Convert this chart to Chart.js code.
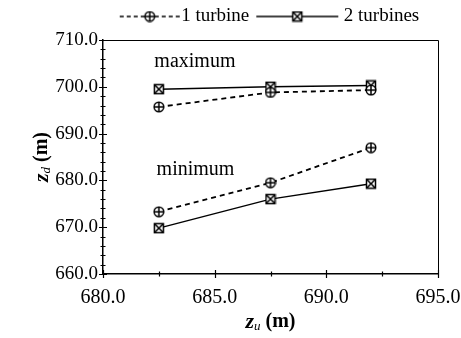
<!DOCTYPE html>
<html><head><meta charset="utf-8">
<script src="https://cdn.jsdelivr.net/npm/chart.js@4"></script>
<style>html,body{margin:0;padding:0;background:#fff}</style>
</head><body>
<canvas id="c" width="461" height="338"></canvas>
<script>
// ---- data ----
const zu = [682.5, 687.5, 692.0];
const oneTurbineMax = [695.7, 698.8, 699.3];
const oneTurbineMin = [673.3, 679.5, 687.0];
const twoTurbinesMax = [699.5, 700.0, 700.3];
const twoTurbinesMin = [669.8, 676.0, 679.3];
const seriesNames = ['1 turbine', '2 turbines'];
const xTicks = [680, 685, 690, 695];
const yTicks = [660, 670, 680, 690, 700, 710];
const groupLabels = ['maximum', 'minimum'];

const SERIF = '"Liberation Serif", "Times New Roman", serif';

// marker glyph; for legend: line from offL..offR relative to image centre
function markerCanvas(kind, offL, offR) {
  const size = 12;
  const legend = offL !== undefined;
  const half = legend ? Math.max(Math.abs(offL), Math.abs(offR)) + 1 : size / 2;
  const W = Math.ceil(half * 2);
  const c = document.createElement('canvas');
  c.width = W; c.height = size;
  const g = c.getContext('2d');
  const mid = W / 2;
  const cx = legend ? mid + (offL + offR) / 2 : mid;
  const cy = size / 2;
  g.strokeStyle = '#000';
  g.lineWidth = 1.5;
  if (legend) {
    g.beginPath();
    if (kind === 'circle') g.setLineDash([4, 3]);
    g.moveTo(mid + offL, cy); g.lineTo(mid + offR, cy);
    g.stroke();
    g.setLineDash([]);
  }
  g.fillStyle = '#fff';
  if (kind === 'circle') {
    g.beginPath(); g.arc(cx, cy, 4.8, 0, Math.PI * 2); g.fill(); g.stroke();
    g.beginPath();
    g.moveTo(cx - 4.8, cy); g.lineTo(cx + 4.8, cy);
    g.moveTo(cx, cy - 4.8); g.lineTo(cx, cy + 4.8);
    g.stroke();
  } else {
    g.beginPath(); g.rect(cx - 4.5, cy - 4.5, 9, 9); g.fill(); g.stroke();
    g.beginPath();
    g.moveTo(cx - 4.5, cy - 4.5); g.lineTo(cx + 4.5, cy + 4.5);
    g.moveTo(cx + 4.5, cy - 4.5); g.lineTo(cx - 4.5, cy + 4.5);
    g.stroke();
  }
  return c;
}
const pointImgs = [markerCanvas('circle'), markerCanvas('square')];
const legendImgs = [markerCanvas('circle', -13, 47), markerCanvas('square', -39, 43)];

function series(maxV, minV) {
  const a = zu.map((x, i) => ({x: x, y: maxV[i]}));
  a.push({x: zu[zu.length - 1], y: null});
  return a.concat(zu.map((x, i) => ({x: x, y: minV[i]})));
}

function drawRich(ctx, parts, cx, cy) {
  let total = 0;
  parts.forEach(p => { ctx.font = p.f; p.w = ctx.measureText(p.t).width; total += p.w; });
  let x = cx - total / 2;
  ctx.textBaseline = 'middle';
  ctx.textAlign = 'left';
  parts.forEach(p => { ctx.font = p.f; ctx.fillText(p.t, x, cy + p.dy); x += p.w; });
}

const decor = {
  id: 'decor',
  beforeLayout(chart) {
    const lg = chart.legend;
    if (lg && !lg._patched) {
      const orig = lg.fit;
      lg.fit = function () { orig.call(this); this.height += 4; };
      lg._patched = true;
    }
  },
  afterLayout(chart) {
    const lg = chart.legend;
    if (lg) {
      lg.left = 75;
      lg.right = chart.chartArea.right;
      lg.width = lg.right - lg.left;
    }
  },
  afterDraw(chart) {
    const {ctx, chartArea: a, scales: {x, y}} = chart;
    ctx.save();
    ctx.strokeStyle = '#000';
    // frame top/right
    ctx.lineWidth = 1;
    ctx.beginPath();
    ctx.moveTo(a.left, a.top + 0.5); ctx.lineTo(a.right + 0.5, a.top + 0.5);
    ctx.lineTo(a.right + 0.5, a.bottom);
    ctx.stroke();
    // ticks
    ctx.lineWidth = 1.2;
    ctx.beginPath();
    for (let v = 680; v <= 695.001; v += 2.5) {
      const px = Math.round(x.getPixelForValue(v)) + 0.5;
      const major = Math.abs(v % 5) < 1e-6;
      const len = major ? 4 : 2.5;
      ctx.moveTo(px, a.bottom - len); ctx.lineTo(px, a.bottom + len);
    }
    for (let v = 660; v <= 710.001; v += 2) {
      const py = Math.round(y.getPixelForValue(v)) + 0.5;
      const major = Math.abs(v % 10) < 1e-6;
      const len = major ? 4 : 2.5;
      ctx.moveTo(a.left - len, py); ctx.lineTo(a.left + len, py);
    }
    ctx.stroke();
    // group annotations
    ctx.fillStyle = '#000';
    ctx.font = '20px ' + SERIF;
    ctx.textAlign = 'left';
    ctx.textBaseline = 'middle';
    ctx.fillText(groupLabels[0], x.getPixelForValue(682.3), y.getPixelForValue(705.3));
    ctx.fillText(groupLabels[1], x.getPixelForValue(682.4), y.getPixelForValue(682.2));
    // axis titles
    drawRich(ctx, [
      {t: 'z', f: 'italic bold 22px ' + SERIF, dy: 0},
      {t: 'u', f: 'italic 13px ' + SERIF, dy: 5},
      {t: ' (m)', f: 'bold 20px ' + SERIF, dy: 0}
    ], (a.left + a.right) / 2, 322);
    ctx.save();
    ctx.translate(42, (a.top + a.bottom) / 2);
    ctx.rotate(-Math.PI / 2);
    drawRich(ctx, [
      {t: 'z', f: 'italic bold 22px ' + SERIF, dy: 0},
      {t: 'd', f: 'italic 13px ' + SERIF, dy: 5},
      {t: ' (m)', f: 'bold 20px ' + SERIF, dy: 0}
    ], 0, 0);
    ctx.restore();
    ctx.restore();
  }
};

new Chart(document.getElementById('c'), {
  type: 'line',
  data: {
    datasets: [
      {label: seriesNames[0], data: series(oneTurbineMax, oneTurbineMin),
       borderColor: '#000', borderWidth: 1.8, borderDash: [5, 4],
       pointStyle: pointImgs[0], pointRadius: 5, spanGaps: false, tension: 0},
      {label: seriesNames[1], data: series(twoTurbinesMax, twoTurbinesMin),
       borderColor: '#000', borderWidth: 1.5,
       pointStyle: pointImgs[1], pointRadius: 5, spanGaps: false, tension: 0}
    ]
  },
  options: {
    responsive: false,
    animation: false,
    devicePixelRatio: 1,
    layout: {padding: {top: 0, right: 23, bottom: 0, left: 0}},
    plugins: {
      tooltip: {enabled: false},
      legend: {
        position: 'top',
        labels: {
          usePointStyle: true,
          pointStyleWidth: 78,
          padding: 7,
          color: '#000',
          font: {family: SERIF, size: 19},
          generateLabels: () => seriesNames.map((n, i) => ({
            text: n, pointStyle: legendImgs[i], datasetIndex: i,
            fillStyle: '#fff', strokeStyle: '#000', lineWidth: 0, hidden: false, fontColor: '#000'
          }))
        }
      }
    },
    scales: {
      x: {
        type: 'linear', min: 680, max: 695,
        afterBuildTicks: s => { s.ticks = xTicks.map(v => ({value: v})); },
        afterFit: s => { s.height = 64; },
        ticks: {callback: v => Number(v).toFixed(1), color: '#000', font: {family: SERIF, size: 20}, padding: 0, maxRotation: 0},
        grid: {display: false, drawTicks: true, tickLength: 12},
        border: {display: true, color: '#000', width: 1.5}
      },
      y: {
        type: 'linear', min: 660, max: 710,
        afterBuildTicks: s => { s.ticks = yTicks.map(v => ({value: v})); },
        afterFit: s => { s.width = 103; },
        ticks: {callback: v => Number(v).toFixed(1), color: '#000', font: {family: SERIF, size: 19}, padding: 5},
        grid: {display: false, drawTicks: false},
        border: {display: true, color: '#000', width: 1.5}
      }
    }
  },
  plugins: [decor]
});
</script>
</body></html>
